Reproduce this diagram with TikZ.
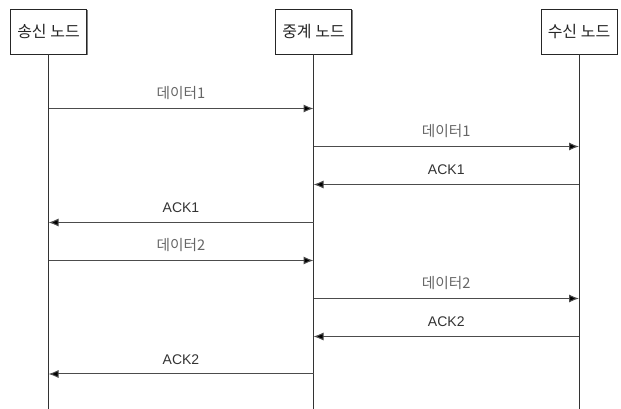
\documentclass[tikz,border=0pt]{standalone}
\usepackage{fontspec}
\setmainfont{Noto Sans CJK KR}
\newfontfamily\latinfont{Liberation Sans}
\usetikzlibrary{arrows.meta,shadows}
\tikzset{
  actor/.style={draw=black!85, line width=0.7pt, fill=white, minimum width=57pt, minimum height=33.75pt,
    inner sep=0pt, font=\fontsize{12pt}{14pt}\selectfont, text=black!85,
    drop shadow={shadow xshift=0.9pt, shadow yshift=-0.9pt, fill=black!50, opacity=1}},
  lifeline/.style={draw=black!80, line width=0.7pt},
  msg/.style={draw=black!70, line width=0.75pt, -{Latex[length=7.5pt,width=6pt,fill=black]}},
  lbl/.style={font=\fontsize{11pt}{13pt}\selectfont, text=black!60},
  acklbl/.style={font=\latinfont\fontsize{10.5pt}{12pt}\selectfont, text=black!80}
}
\begin{document}
\begin{tikzpicture}[x=0.75pt,y=-0.75pt]
\useasboundingbox (0,0) rectangle (621,409);
\node[actor] (snd) at (48.5,31.5) {송신 노드};
\node[actor] (rel) at (313.5,31.5) {중계 노드};
\node[actor] (rcv) at (579,31.5) {수신 노드};
\coordinate (sndEnd) at (48.5,409);
\coordinate (relEnd) at (313.5,409);
\coordinate (rcvEnd) at (579,409);
\draw[lifeline] (snd.south) -- (sndEnd);
\draw[lifeline] (rel.south) -- (relEnd);
\draw[lifeline] (rcv.south) -- (rcvEnd);
% message endpoints
\foreach \n/\y in {1/108.5,2/146.5,3/184.5,4/222.5,5/260.5,6/298.5,7/336.5,8/374}{
  \coordinate (s\n) at (48.5,\y);
  \coordinate (r\n) at (313.5,\y);
  \coordinate (c\n) at (579,\y);
}
\draw[msg] (s1) -- node[lbl, above=3pt] {데이터1} (r1);
\draw[msg] (r2) -- node[lbl, above=3pt] {데이터1} (c2);
\draw[msg] (c3) -- node[acklbl, above=3.5pt] {ACK1} (r3);
\draw[msg] (r4) -- node[acklbl, above=3.5pt] {ACK1} (s4);
\draw[msg] (s5) -- node[lbl, above=3pt] {데이터2} (r5);
\draw[msg] (r6) -- node[lbl, above=3pt] {데이터2} (c6);
\draw[msg] (c7) -- node[acklbl, above=3.5pt] {ACK2} (r7);
\draw[msg] (r8) -- node[acklbl, above=3.5pt] {ACK2} (s8);
\end{tikzpicture}
\end{document}
